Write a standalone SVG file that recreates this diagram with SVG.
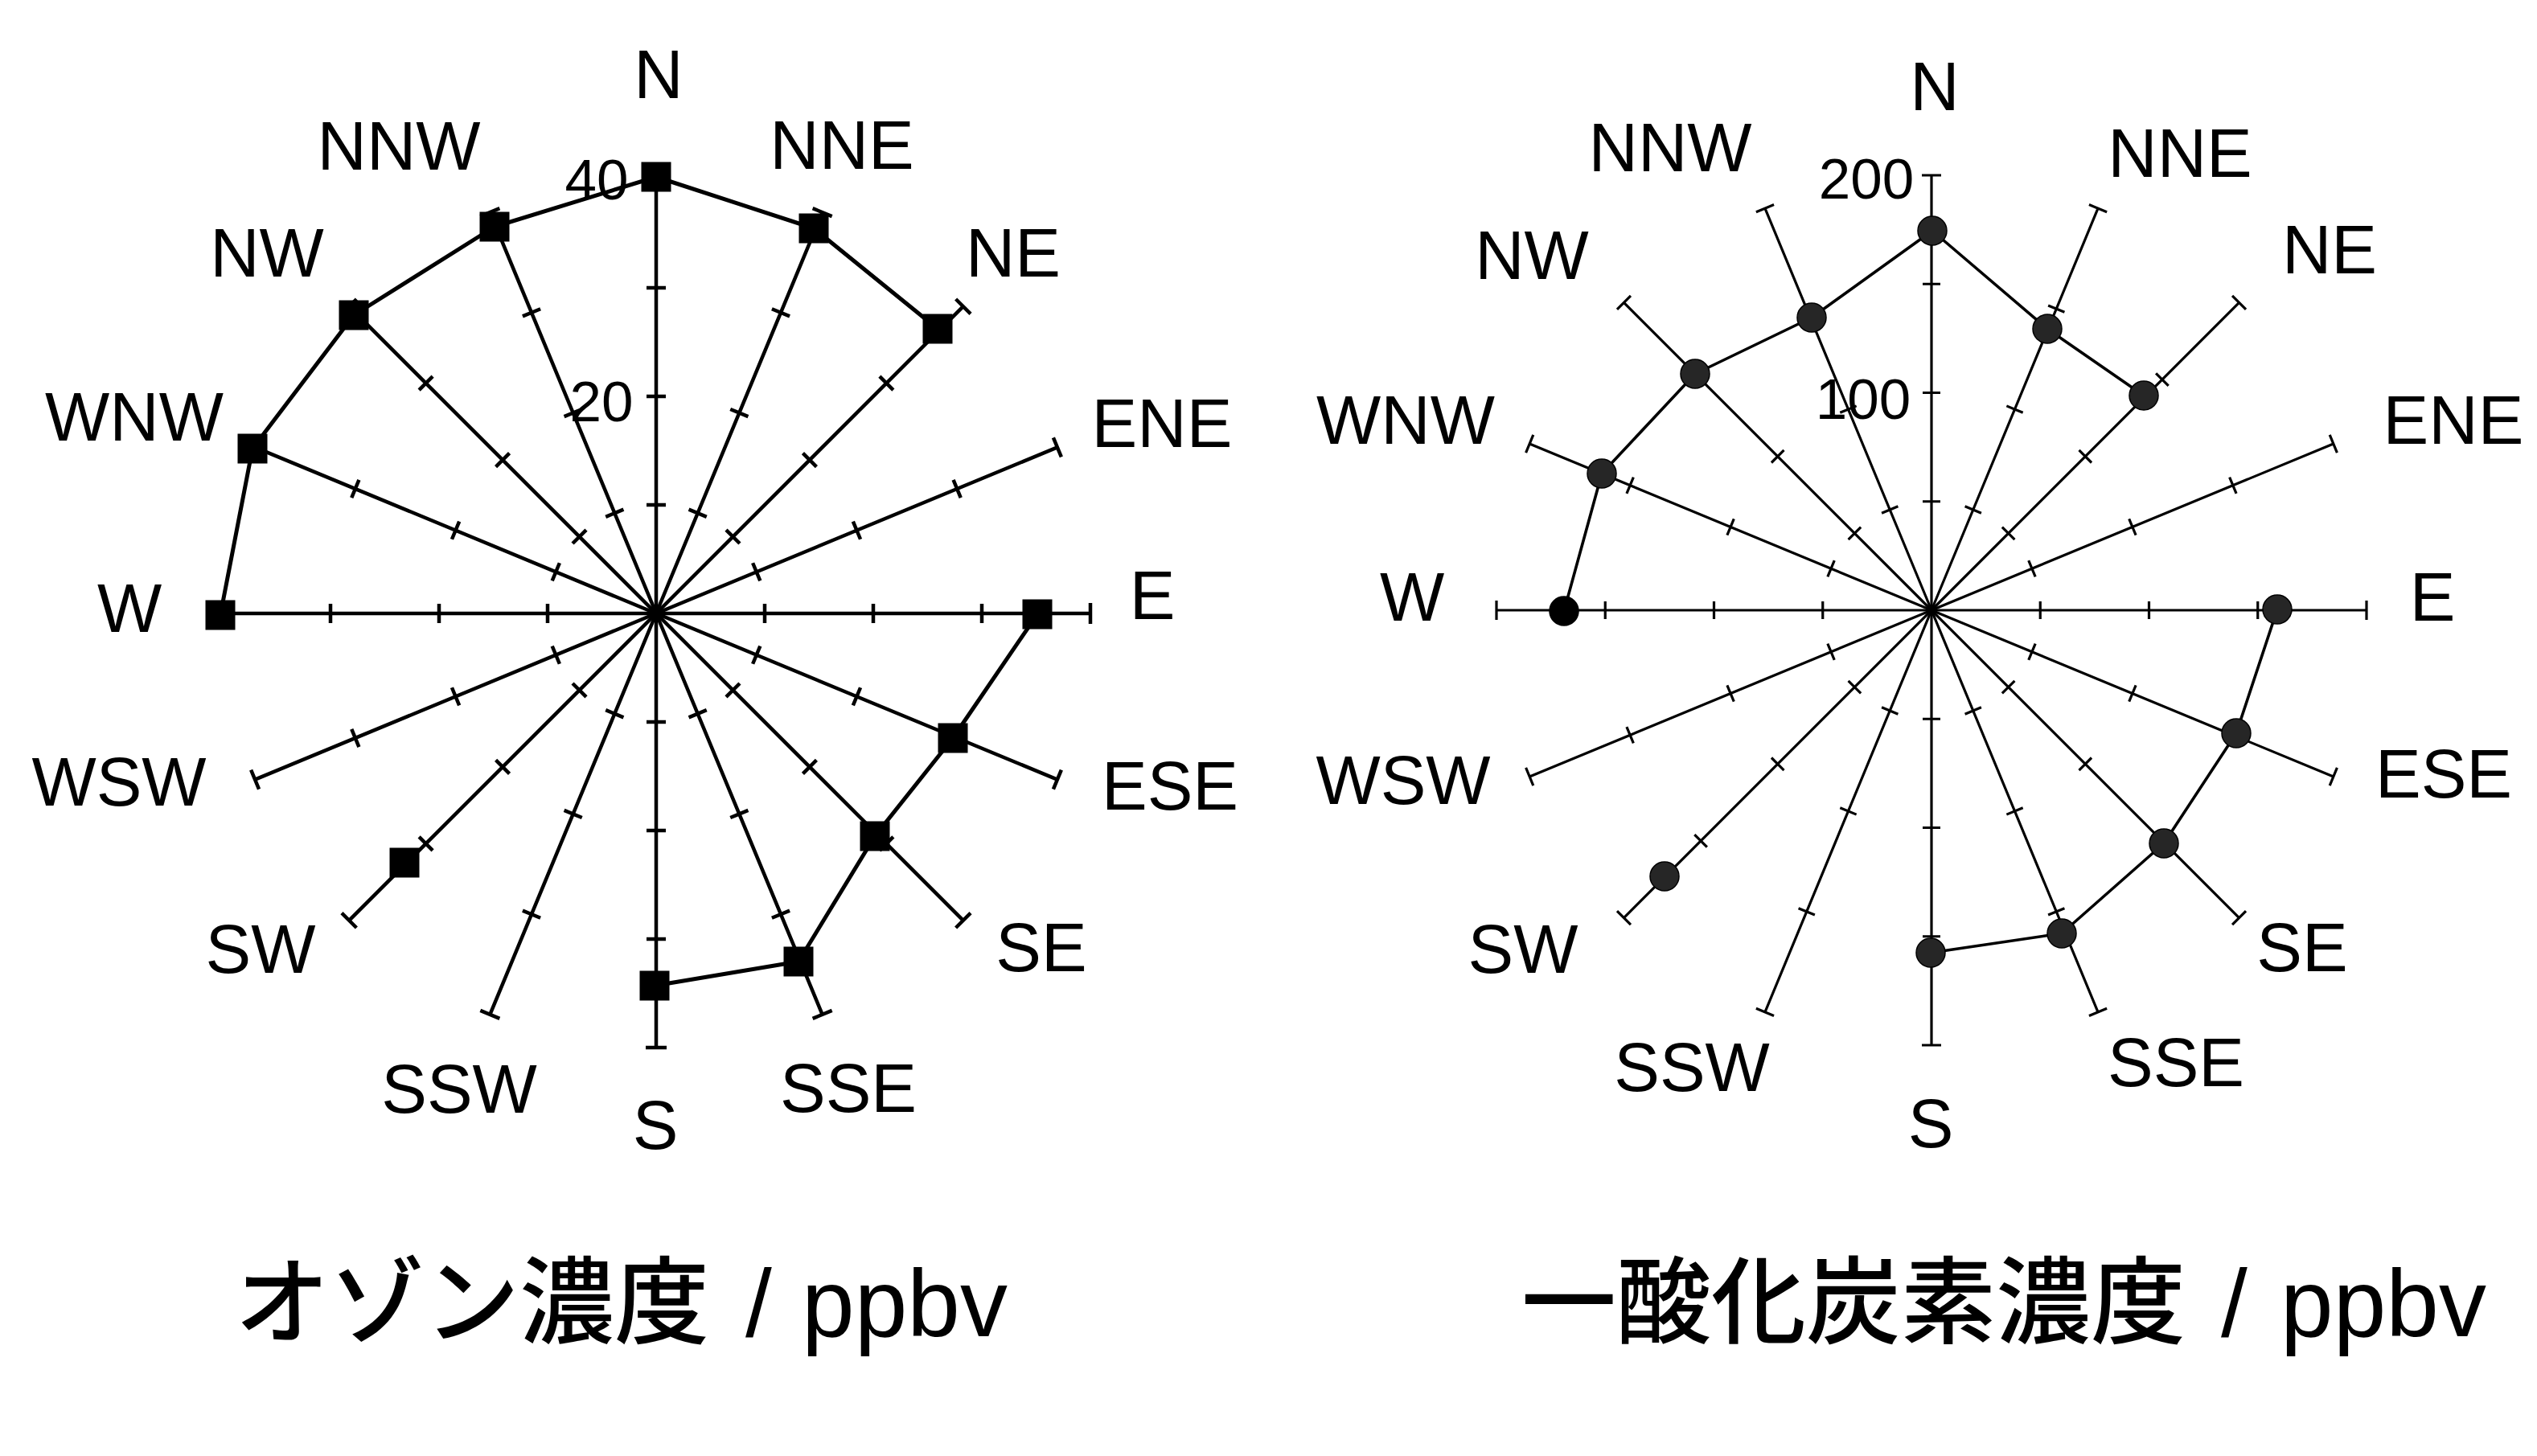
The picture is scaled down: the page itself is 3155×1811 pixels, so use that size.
<svg xmlns="http://www.w3.org/2000/svg" xmlns:xlink="http://www.w3.org/1999/xlink" width="3155" height="1811" viewBox="0 0 3155 1811">
<style>
.axL{fill:none;stroke:#000;stroke-width:4.5}
.axR{fill:none;stroke:#000;stroke-width:3.2}
.dataL{fill:none;stroke:#000;stroke-width:5;stroke-linejoin:round}
.dataR{fill:none;stroke:#000;stroke-width:3.6;stroke-linejoin:round}
.sq{fill:#000}
.ci{fill:#262626;stroke:#000;stroke-width:1.5}
.ciB{fill:#000}
.lbl{font-family:"Liberation Sans",Arial,sans-serif;font-size:85px;text-anchor:middle;fill:#000}
.num{font-family:"Liberation Sans",Arial,sans-serif;font-size:71px;text-anchor:middle;fill:#000}
.title{font-family:"Liberation Sans","Noto Sans CJK JP",sans-serif;font-size:118px;fill:#000}
.cjk{font-family:"Noto Sans CJK JP",sans-serif;font-weight:500}
</style>
<defs>
<path id="axisL" d="M816,763V223M804,628H828M804,493H828M804,358H828M803,223H829"/>
<path id="axisR" d="M2402,759V218M2391,623.75H2413M2391,488.5H2413M2391,353.25H2413M2390,218H2414"/>
<rect id="sqm" x="-18.5" y="-18.5" width="37" height="37"/>
<circle id="cim" r="18"/>
</defs>
<rect width="3155" height="1811" fill="#fff"/>

<g id="ozone-chart">
<g id="ozone-axes" class="axL">
<use xlink:href="#axisL" href="#axisL"/>
<use xlink:href="#axisL" href="#axisL" transform="rotate(22.5 816 763)"/>
<use xlink:href="#axisL" href="#axisL" transform="rotate(45 816 763)"/>
<use xlink:href="#axisL" href="#axisL" transform="rotate(67.5 816 763)"/>
<use xlink:href="#axisL" href="#axisL" transform="rotate(90 816 763)"/>
<use xlink:href="#axisL" href="#axisL" transform="rotate(112.5 816 763)"/>
<use xlink:href="#axisL" href="#axisL" transform="rotate(135 816 763)"/>
<use xlink:href="#axisL" href="#axisL" transform="rotate(157.5 816 763)"/>
<use xlink:href="#axisL" href="#axisL" transform="rotate(180 816 763)"/>
<use xlink:href="#axisL" href="#axisL" transform="rotate(202.5 816 763)"/>
<use xlink:href="#axisL" href="#axisL" transform="rotate(225 816 763)"/>
<use xlink:href="#axisL" href="#axisL" transform="rotate(247.5 816 763)"/>
<use xlink:href="#axisL" href="#axisL" transform="rotate(270 816 763)"/>
<use xlink:href="#axisL" href="#axisL" transform="rotate(292.5 816 763)"/>
<use xlink:href="#axisL" href="#axisL" transform="rotate(315 816 763)"/>
<use xlink:href="#axisL" href="#axisL" transform="rotate(337.5 816 763)"/>
</g>
<g id="ozone-connectors" class="dataL">
<polyline points="274,765 314,558 440,392 615,282 816,220 1012,284 1166,409"/>
<polyline points="1290,764 1185,918 1088,1040 993,1196 814,1226"/>
</g>
<g id="ozone-markers" class="sq">
<use xlink:href="#sqm" href="#sqm" x="816" y="220"/>
<use xlink:href="#sqm" href="#sqm" x="1012" y="284"/>
<use xlink:href="#sqm" href="#sqm" x="1166" y="409"/>
<use xlink:href="#sqm" href="#sqm" x="1290" y="764"/>
<use xlink:href="#sqm" href="#sqm" x="1185" y="918"/>
<use xlink:href="#sqm" href="#sqm" x="1088" y="1040"/>
<use xlink:href="#sqm" href="#sqm" x="993" y="1196"/>
<use xlink:href="#sqm" href="#sqm" x="814" y="1226"/>
<use xlink:href="#sqm" href="#sqm" x="503" y="1073"/>
<use xlink:href="#sqm" href="#sqm" x="274" y="765"/>
<use xlink:href="#sqm" href="#sqm" x="314" y="558"/>
<use xlink:href="#sqm" href="#sqm" x="440" y="392"/>
<use xlink:href="#sqm" href="#sqm" x="615" y="282"/>
</g>
<g id="ozone-labels">
<text class="lbl" x="819" y="122">N</text>
<text class="lbl" x="1047" y="210">NNE</text>
<text class="lbl" x="496" y="211">NNW</text>
<text class="lbl" x="1260" y="344">NE</text>
<text class="lbl" x="332" y="344">NW</text>
<text class="lbl" x="1445" y="556">ENE</text>
<text class="lbl" x="167" y="548">WNW</text>
<text class="lbl" x="1433" y="770">E</text>
<text class="lbl" x="161" y="786">W</text>
<text class="lbl" x="1455" y="1007">ESE</text>
<text class="lbl" x="148" y="1002">WSW</text>
<text class="lbl" x="1295" y="1208">SE</text>
<text class="lbl" x="324" y="1210">SW</text>
<text class="lbl" x="1055" y="1383">SSE</text>
<text class="lbl" x="571" y="1384">SSW</text>
<text class="lbl" x="815" y="1429">S</text>
<text class="num" x="742" y="248">40</text>
<text class="num" x="748" y="524">20</text>
</g>
<text id="ozone-title" class="title" x="292" y="1662"><tspan class="cjk">オゾン濃度</tspan> <tspan x="927">/</tspan> <tspan x="997">ppbv</tspan></text>
</g>

<g id="co-chart">
<g id="co-axes" class="axR">
<use xlink:href="#axisR" href="#axisR"/>
<use xlink:href="#axisR" href="#axisR" transform="rotate(22.5 2402 759)"/>
<use xlink:href="#axisR" href="#axisR" transform="rotate(45 2402 759)"/>
<use xlink:href="#axisR" href="#axisR" transform="rotate(67.5 2402 759)"/>
<use xlink:href="#axisR" href="#axisR" transform="rotate(90 2402 759)"/>
<use xlink:href="#axisR" href="#axisR" transform="rotate(112.5 2402 759)"/>
<use xlink:href="#axisR" href="#axisR" transform="rotate(135 2402 759)"/>
<use xlink:href="#axisR" href="#axisR" transform="rotate(157.5 2402 759)"/>
<use xlink:href="#axisR" href="#axisR" transform="rotate(180 2402 759)"/>
<use xlink:href="#axisR" href="#axisR" transform="rotate(202.5 2402 759)"/>
<use xlink:href="#axisR" href="#axisR" transform="rotate(225 2402 759)"/>
<use xlink:href="#axisR" href="#axisR" transform="rotate(247.5 2402 759)"/>
<use xlink:href="#axisR" href="#axisR" transform="rotate(270 2402 759)"/>
<use xlink:href="#axisR" href="#axisR" transform="rotate(292.5 2402 759)"/>
<use xlink:href="#axisR" href="#axisR" transform="rotate(315 2402 759)"/>
<use xlink:href="#axisR" href="#axisR" transform="rotate(337.5 2402 759)"/>
</g>
<g id="co-connectors" class="dataR">
<polyline points="1945,760 1992,589 2108,465 2253,395 2403,287 2546,409 2666,492"/>
<polyline points="2832,758 2781,912 2691,1049 2564,1161 2401,1185"/>
</g>
<g id="co-markers" class="ci">
<use xlink:href="#cim" href="#cim" x="2403" y="287"/>
<use xlink:href="#cim" href="#cim" x="2546" y="409"/>
<use xlink:href="#cim" href="#cim" x="2666" y="492"/>
<use xlink:href="#cim" href="#cim" x="2832" y="758"/>
<use xlink:href="#cim" href="#cim" x="2781" y="912"/>
<use xlink:href="#cim" href="#cim" x="2691" y="1049"/>
<use xlink:href="#cim" href="#cim" x="2564" y="1161"/>
<use xlink:href="#cim" href="#cim" x="2401" y="1185"/>
<use xlink:href="#cim" href="#cim" x="2070" y="1090"/>
<use xlink:href="#cim" href="#cim" x="1992" y="589"/>
<use xlink:href="#cim" href="#cim" x="2108" y="465"/>
<use xlink:href="#cim" href="#cim" x="2253" y="395"/>
<use xlink:href="#cim" href="#cim" class="ciB" x="1945" y="760"/>
</g>
<g id="co-labels">
<text class="lbl" x="2406" y="137">N</text>
<text class="lbl" x="2711" y="220">NNE</text>
<text class="lbl" x="2077" y="213">NNW</text>
<text class="lbl" x="2897" y="340">NE</text>
<text class="lbl" x="1905" y="347">NW</text>
<text class="lbl" x="3051" y="552">ENE</text>
<text class="lbl" x="1748" y="552">WNW</text>
<text class="lbl" x="3025" y="772">E</text>
<text class="lbl" x="1756" y="772">W</text>
<text class="lbl" x="3039" y="992">ESE</text>
<text class="lbl" x="1745" y="1000">WSW</text>
<text class="lbl" x="2863" y="1208">SE</text>
<text class="lbl" x="1894" y="1210">SW</text>
<text class="lbl" x="2706" y="1351">SSE</text>
<text class="lbl" x="2104" y="1357">SSW</text>
<text class="lbl" x="2401" y="1427">S</text>
<text class="num" x="2321" y="247">200</text>
<text class="num" x="2317" y="521">100</text>
</g>
<text id="co-title" class="title" x="1892" y="1662"><tspan class="cjk">一酸化炭素濃度</tspan> <tspan x="2762">/</tspan> <tspan x="2836">ppbv</tspan></text>
</g>
</svg>
